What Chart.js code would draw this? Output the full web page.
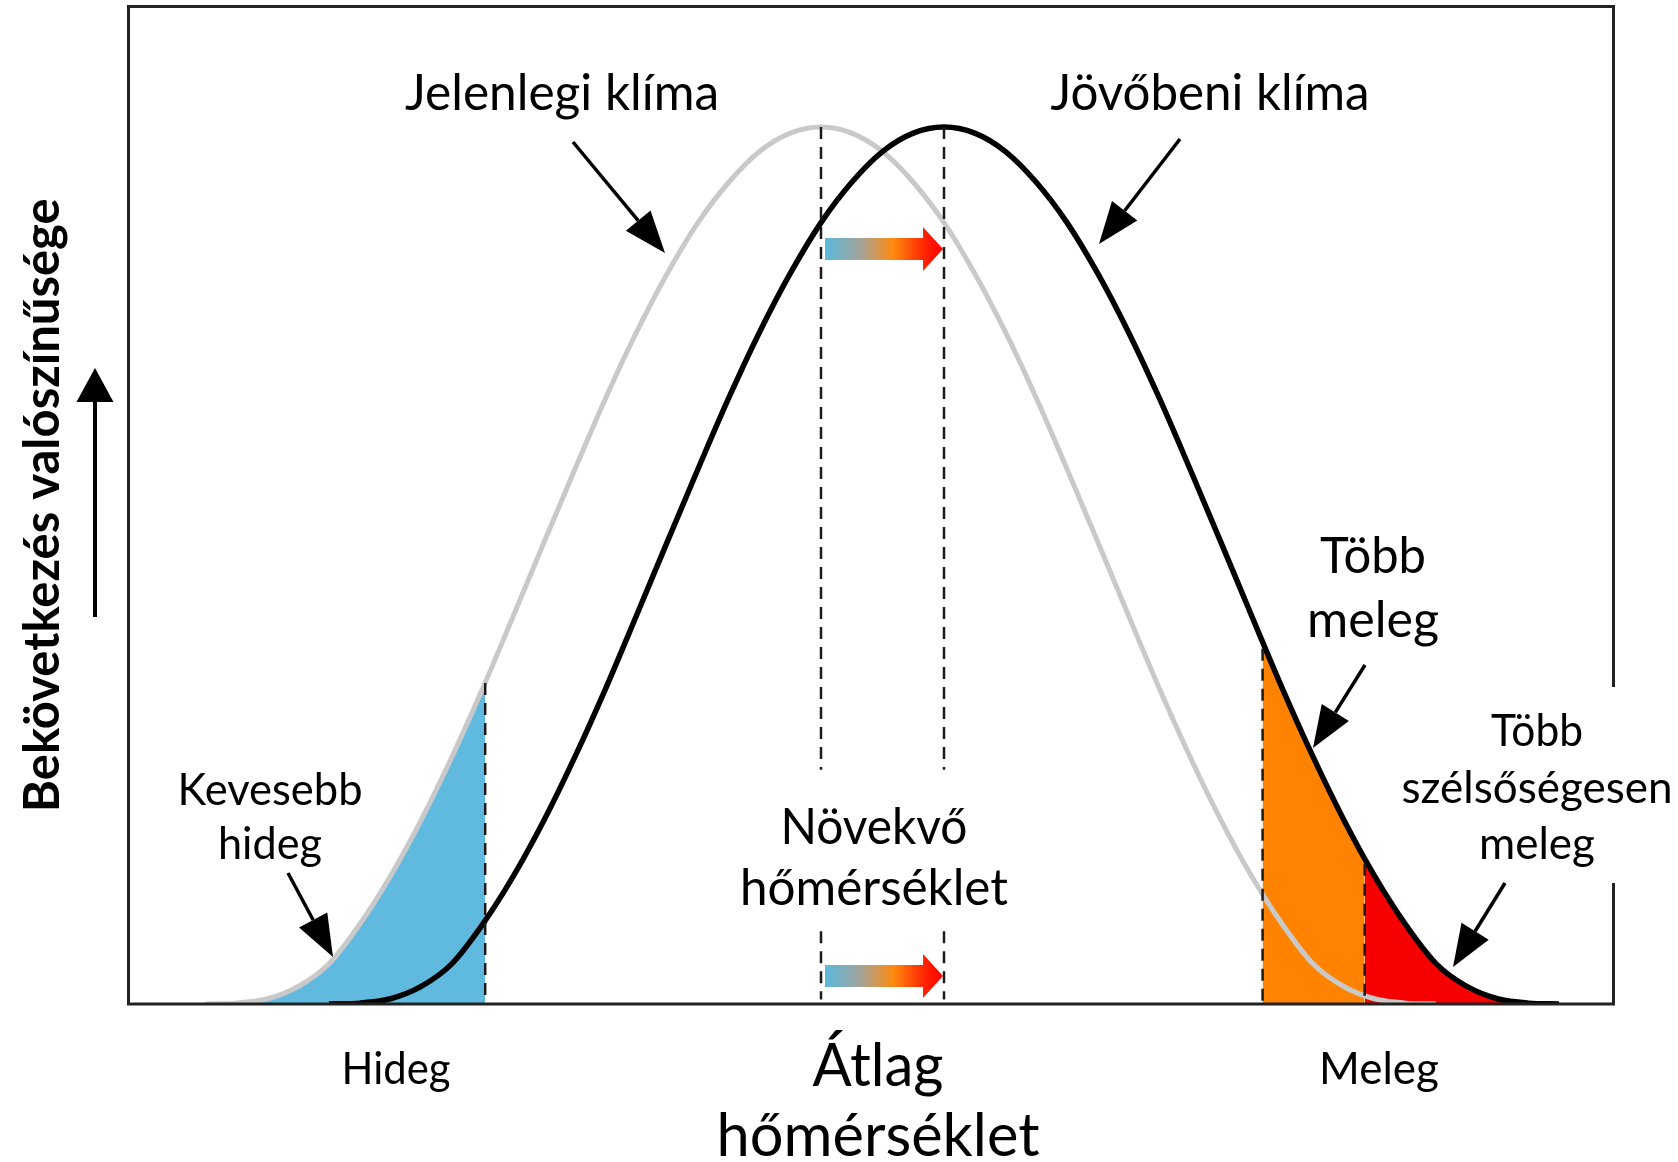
<!DOCTYPE html>
<html>
<head>
<meta charset="utf-8">
<script src="https://cdn.jsdelivr.net/npm/chart.js@4.4.1/dist/chart.umd.min.js"></script>
<style>
  html, body { margin: 0; padding: 0; background: #fff; }
  #wrap { width: 1678px; height: 1162px; position: relative; }
</style>
</head>
<body>
<div id="wrap"><canvas id="chart"></canvas></div>
<script>
// temperature axis: present mean = 0, future mean = 1
const temps = [-5.5, -5.25, -5, -4.75, -4.5, -4.25, -4, -3.75, -3.5, -3.25, -3, -2.75,
    -2.5, -2.25, -2, -1.75, -1.5, -1.25, -1, -0.75, -0.5, -0.25, 0, 0.25,
    0.5, 0.75, 1, 1.25, 1.5, 1.75, 2, 2.25, 2.5, 2.75, 3, 3.25,
    3.5, 3.75, 4, 4.25, 4.5, 4.75, 5, 5.25, 5.5, 5.75, 6, 6.25];

// Jelenlegi klíma (grey)
const presentClimate = [0, 0, 0, 0.001, 0.006, 0.02, 0.046, 0.091, 0.146, 0.21, 0.282, 0.36,
    0.443, 0.527, 0.61, 0.691, 0.766, 0.833, 0.891, 0.937, 0.972, 0.993, 1, 0.993,
    0.972, 0.937, 0.891, 0.833, 0.766, 0.691, 0.61, 0.527, 0.443, 0.36, 0.282, 0.21,
    0.146, 0.091, 0.046, 0.02, 0.006, 0.001, 0, 0, 0, 0, 0, 0];

// Jövőbeni klíma (black)
const futureClimate = [0, 0, 0, 0, 0, 0, 0, 0.001, 0.006, 0.02, 0.046, 0.091,
    0.146, 0.21, 0.282, 0.36, 0.443, 0.527, 0.61, 0.691, 0.766, 0.833, 0.891, 0.937,
    0.972, 0.993, 1, 0.993, 0.972, 0.937, 0.891, 0.833, 0.766, 0.691, 0.61, 0.527,
    0.443, 0.36, 0.282, 0.21, 0.146, 0.091, 0.046, 0.02, 0.006, 0.001, 0, 0];

const means = [0, 1];

// shaded tails: where the dashed edges stand, and the curve height there
const tailEdges = [-2.73, 3.59, 4.42];
const tailEdgeHeights = [0.366, 0.405, 0.16];

// keep one zero at each end of a curve, drop the rest of the flat run
const toPoints = (ys) => temps
    .map((t, i) => ({ x: t, y: ys[i] }))
    .filter((p, i) => p.y > 0 || ys[i - 1] > 0 || ys[i + 1] > 0);
const presentPts = toPoints(presentClimate);
const futurePts = toPoints(futureClimate);

const coldTail = presentPts.filter(p => p.x < tailEdges[0] - 0.1)
    .concat([{ x: tailEdges[0], y: tailEdgeHeights[0] }]);
const warmTail = [{ x: tailEdges[1], y: tailEdgeHeights[1] }]
    .concat(futurePts.filter(p => p.x > tailEdges[1] + 0.1 && p.x < tailEdges[2] - 0.1))
    .concat([{ x: tailEdges[2], y: tailEdgeHeights[2] }]);
const hotTail = [{ x: tailEdges[2], y: tailEdgeHeights[2] }]
    .concat(futurePts.filter(p => p.x > tailEdges[2] + 0.05));

const dashStyle = {
    borderColor: '#1a1a1a', borderWidth: 2.5, borderDash: [12, 8],
    pointRadius: 0, tension: 0, fill: false, order: 0
};

const meanLine = (m) => ({
    ...dashStyle,
    data: [{ x: m, y: 1 }, { x: m, y: 0.267 }, { x: m, y: null }, { x: m, y: 0.083 }, { x: m, y: 0.005 }]
});
const edgeLine = (i) => ({
    ...dashStyle,
    data: [{ x: tailEdges[i], y: tailEdgeHeights[i] }, { x: tailEdges[i], y: 0 }]
});
const tailFill = (pts, color) => ({
    data: pts, fill: 'origin', backgroundColor: color, borderWidth: 0,
    pointRadius: 0, cubicInterpolationMode: 'monotone', order: 3
});

const FONT = 'Lato, "Open Sans", sans-serif';

// text labels: lines, centre x, first baseline, line gap, size, max widths
const labels = [
    { lines: ['Jelenlegi klíma'], x: 562, y: 110, gap: 0, size: 51, w: [314] },
    { lines: ['Jövőbeni klíma'], x: 1210, y: 110, gap: 0, size: 51, w: [319] },
    { lines: ['Több', 'meleg'], x: 1373, y: 573, gap: 64, size: 51, w: [106, 132] },
    { lines: ['Növekvő', 'hőmérséklet'], x: 874, y: 844, gap: 61, size: 51, w: [187, 268] },
    { lines: ['Kevesebb', 'hideg'], x: 270, y: 805, gap: 54, size: 44, w: [185, 104] },
    { lines: ['Több', 'szélsőségesen', 'meleg'], x: 1537, y: 746, gap: 56.5, size: 44, w: [92, 273, 118] },
    { lines: ['Hideg'], x: 396, y: 1084, gap: 0, size: 44, w: [109] },
    { lines: ['Meleg'], x: 1379, y: 1084, gap: 0, size: 44, w: [121] },
    { lines: ['Átlag', 'hőmérséklet'], x: 878, y: 1086, gap: 70, size: 60, w: [131, 323] }
];

// thin black pointers [from x, from y, tip x, tip y]
const pointers = [
    [573, 142, 665, 253],
    [1180, 139, 1099, 244],
    [288, 873, 333, 957],
    [1365, 665, 1313, 748],
    [1505, 883, 1453, 967]
];

function pointer(ctx, x0, y0, x1, y1, head, half, lw) {
    const a = Math.atan2(y1 - y0, x1 - x0);
    const bx = x1 - head * Math.cos(a), by = y1 - head * Math.sin(a);
    ctx.strokeStyle = '#000';
    ctx.lineWidth = lw;
    ctx.beginPath();
    ctx.moveTo(x0, y0);
    ctx.lineTo(bx, by);
    ctx.stroke();
    ctx.fillStyle = '#000';
    ctx.beginPath();
    ctx.moveTo(x1, y1);
    ctx.lineTo(bx + half * Math.sin(a), by - half * Math.cos(a));
    ctx.lineTo(bx - half * Math.sin(a), by + half * Math.cos(a));
    ctx.closePath();
    ctx.fill();
}

function shiftArrow(ctx, x0, x1, y) {
    const g = ctx.createLinearGradient(x0, 0, x1, 0);
    g.addColorStop(0, '#5ab9dd');
    g.addColorStop(0.3, '#a3a49a');
    g.addColorStop(0.58, '#ff8a10');
    g.addColorStop(0.85, '#ff2200');
    g.addColorStop(1, '#ff0000');
    ctx.fillStyle = g;
    ctx.beginPath();
    ctx.moveTo(x0, y - 11);
    ctx.lineTo(x1 - 20, y - 11);
    ctx.lineTo(x1 - 20, y - 22);
    ctx.lineTo(x1, y);
    ctx.lineTo(x1 - 20, y + 22);
    ctx.lineTo(x1 - 20, y + 11);
    ctx.lineTo(x0, y + 11);
    ctx.closePath();
    ctx.fill();
}

const decor = {
    id: 'decor',
    afterDatasetsDraw(chart) {
        const { ctx, chartArea: a, scales: { x, y } } = chart;
        ctx.save();
        ctx.strokeStyle = '#222';
        ctx.lineWidth = 3;
        ctx.strokeRect(a.left, a.top, a.right - a.left, a.bottom - a.top);
        const x0 = x.getPixelForValue(means[0]) + 4;
        const x1 = x.getPixelForValue(means[1]) - 1;
        shiftArrow(ctx, x0, x1, y.getPixelForValue(0.861));
        shiftArrow(ctx, x0, x1, y.getPixelForValue(0.032));
        ctx.restore();
    },
    afterDraw(chart) {
        const { ctx } = chart;
        ctx.save();
        // white patch behind the right-hand label cuts the frame
        ctx.fillStyle = '#fff';
        ctx.fillRect(1400, 687, 278, 196);
        pointers.forEach(p => pointer(ctx, p[0], p[1], p[2], p[3], 42, 16, 3.5));
        pointer(ctx, 95, 617, 95, 368, 34, 18.5, 4);
        ctx.fillStyle = '#000';
        ctx.textAlign = 'center';
        ctx.textBaseline = 'alphabetic';
        labels.forEach(l => {
            ctx.font = l.size + 'px ' + FONT;
            l.lines.forEach((t, i) => ctx.fillText(t, l.x, l.y + i * l.gap, l.w[i]));
        });
        ctx.restore();
    }
};

new Chart(document.getElementById('chart'), {
    type: 'line',
    data: {
        datasets: [
            meanLine(means[0]),
            meanLine(means[1]),
            edgeLine(0),
            edgeLine(1),
            edgeLine(2),
            {
                label: 'Jövőbeni klíma', data: futurePts, borderColor: '#000', borderWidth: 5.5,
                pointRadius: 0, cubicInterpolationMode: 'monotone', fill: false, order: 1
            },
            {
                label: 'Jelenlegi klíma', data: presentPts, borderColor: '#c9c9c9', borderWidth: 5,
                pointRadius: 0, cubicInterpolationMode: 'monotone', fill: false, order: 2
            },
            tailFill(coldTail, '#60badf'),
            tailFill(warmTail, '#ff8300'),
            tailFill(hotTail, '#f70000')
        ]
    },
    options: {
        responsive: true,
        maintainAspectRatio: false,
        animation: false,
        layout: { padding: { top: 6.5, right: 64.5, bottom: 158, left: 0 } },
        scales: {
            x: { type: 'linear', min: -5.63, max: 6.443, display: false },
            y: {
                min: 0,
                max: 1.1374,
                grid: { display: false },
                border: { display: false },
                ticks: { display: false },
                title: {
                    display: true,
                    text: 'Bekövetkezés valószínűsége',
                    color: '#000',
                    font: { family: FONT, size: 49, weight: 'bold' },
                    padding: { top: 14, bottom: 0 }
                },
                afterFit: (scale) => { scale.width = 128.5; }
            }
        },
        plugins: {
            legend: { display: false },
            tooltip: { enabled: false }
        }
    },
    plugins: [decor]
});
</script>
</body>
</html>
